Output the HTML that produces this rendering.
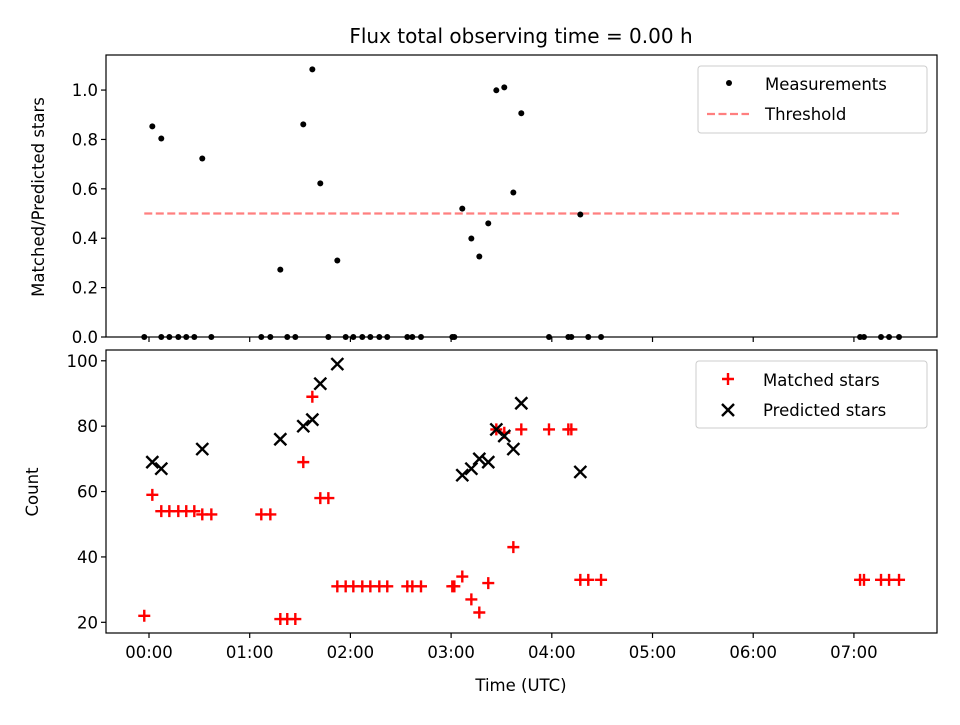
<!DOCTYPE html>
<html><head><meta charset="utf-8"><style>
body{margin:0;background:#fff;}
svg text{font-family:"DejaVu Sans","Liberation Sans",sans-serif;fill:#000;}
</style></head><body>
<svg id="chart" width="960" height="720" xmlns="http://www.w3.org/2000/svg"></svg>
<script>
const rTimes=[-0.047,0.122,0.202,0.291,0.370,0.450,0.619,1.115,1.205,1.373,1.453,1.781,1.953,2.029,2.118,2.198,2.287,2.366,2.565,2.615,2.701,3.012,3.032,3.972,4.164,4.194,4.362,4.489,7.061,7.100,7.269,7.349,7.448,
0.033,0.122,0.529,1.304,1.532,1.622,1.701,1.870,3.111,3.201,3.280,3.369,3.449,3.528,3.618,3.697,4.283];
const rValues=[0,0,0,0,0,0,0,0,0,0,0,0,0,0,0,0,0,0,0,0,0,0,0,0,0,0,0,0,0,0,0,0,0,
0.853,0.804,0.723,0.273,0.861,1.084,0.622,0.310,0.520,0.399,0.326,0.460,0.999,1.011,0.585,0.906,0.496];
const threshold=0.5;
const mTimes=[-0.047,0.033,0.122,0.202,0.291,0.370,0.450,0.529,0.619,1.115,1.205,1.304,1.373,1.453,1.532,1.622,1.701,1.781,1.870,1.953,2.029,2.118,2.198,2.287,2.366,2.565,2.615,2.701,3.012,3.032,3.111,3.201,3.280,3.369,3.449,3.528,3.618,3.697,3.972,4.164,4.194,4.283,4.362,4.489,7.061,7.100,7.269,7.349,7.448];
const mCounts=[22,59,54,54,54,54,54,53,53,53,53,21,21,21,69,89,58,58,31,31,31,31,31,31,31,31,31,31,31,31,34,27,23,32,79,78,43,79,79,79,79,33,33,33,33,33,33,33,33];
const pTimes=[0.033,0.122,0.529,1.304,1.532,1.622,1.701,1.870,3.111,3.201,3.280,3.369,3.449,3.528,3.618,3.697,4.283];
const pCounts=[69,67,73,76,80,82,93,99,65,67,70,69,79,77,73,87,66];
const xTicks=[0,1,2,3,4,5,6,7];
const xTickLabels=["00:00","01:00","02:00","03:00","04:00","05:00","06:00","07:00"];
const topYTicks=[0,0.2,0.4,0.6,0.8,1.0];
const botYTicks=[20,40,60,80,100];

const NS="http://www.w3.org/2000/svg";
const svg=document.getElementById('chart');
function el(tag,attrs,parent){const e=document.createElementNS(NS,tag);for(const k in attrs)e.setAttribute(k,attrs[k]);(parent||svg).appendChild(e);return e;}
const L=106,R=937,xMin=-0.427,xMax=7.825;
const X=h=>L+(h-xMin)/(xMax-xMin)*(R-L);
const T={top:55,bot:337,min:0,max:1.142};
const B={top:350,bot:633,min:16.73,max:103.3};
const YT=v=>T.bot-(v-T.min)/(T.max-T.min)*(T.bot-T.top);
const YB=v=>B.bot-(v-B.min)/(B.max-B.min)*(B.bot-B.top);
const FS=16.5;

let t=el('text',{x:521,y:43,'text-anchor':'middle','font-size':20});t.textContent='Flux total observing time = 0.00 h';


const gT=el('g',{});

let th=el('line',{x1:X(Math.min(...mTimes)),x2:X(Math.max(...mTimes)),y1:YT(threshold),y2:YT(threshold),stroke:'#ff7f7f','stroke-width':2.2,'stroke-dasharray':'8,3.5'},gT);

rTimes.forEach((h,i)=>{const c=el('circle',{cx:X(h),cy:YT(rValues[i]),r:3,fill:'#000'},gT);
});
el('rect',{x:L,y:T.top,width:R-L,height:T.bot-T.top,fill:'none',stroke:'#000','stroke-width':1.2},gT);
topYTicks.forEach(v=>{const y=YT(v);el('line',{x1:L-5,x2:L,y1:y,y2:y,stroke:'#000','stroke-width':1.2},gT);
const tx=el('text',{x:L-8,y:y+6,'text-anchor':'end','font-size':FS},gT);tx.textContent=v.toFixed(1);
});
xTicks.forEach(h=>{el('line',{x1:X(h),x2:X(h),y1:T.bot,y2:T.bot+5,stroke:'#000','stroke-width':1.2},gT);});
let yl=el('text',{x:0,y:0,transform:'translate(44,197) rotate(-90)','text-anchor':'middle','font-size':FS},gT);yl.textContent='Matched/Predicted stars';

const lg1=el('g',{});
el('rect',{x:698,y:66,width:229,height:67,rx:3,fill:'#fff',stroke:'#ccc','stroke-width':1},lg1);
el('circle',{cx:729,cy:83,r:3,fill:'#000'},lg1);
let l1=el('text',{x:765,y:90,'font-size':FS},lg1);l1.textContent='Measurements';
el('line',{x1:707,x2:749,y1:114,y2:114,stroke:'#ff7f7f','stroke-width':2.2,'stroke-dasharray':'8,3.5'},lg1);
let l2=el('text',{x:765,y:120,'font-size':FS},lg1);l2.textContent='Threshold';

const gB=el('g',{});
function plus(cx,cy,g){return el('path',{d:`M${cx-6},${cy}H${cx+6}M${cx},${cy-6}V${cy+6}`,stroke:'#f00','stroke-width':2.4},g);}
function cross(cx,cy,g){return el('path',{d:`M${cx-6},${cy-6}L${cx+6},${cy+6}M${cx-6},${cy+6}L${cx+6},${cy-6}`,stroke:'#000','stroke-width':2.4},g);}
mTimes.forEach((h,i)=>{const p=plus(X(h),YB(mCounts[i]),gB);
});
pTimes.forEach((h,i)=>{const p=cross(X(h),YB(pCounts[i]),gB);
});
el('rect',{x:L,y:B.top,width:R-L,height:B.bot-B.top,fill:'none',stroke:'#000','stroke-width':1.2},gB);
botYTicks.forEach(v=>{const y=YB(v);el('line',{x1:L-5,x2:L,y1:y,y2:y,stroke:'#000','stroke-width':1.2},gB);
const tx=el('text',{x:L-8,y:y+6,'text-anchor':'end','font-size':FS},gB);tx.textContent=v;
});
xTicks.forEach((h,i)=>{el('line',{x1:X(h),x2:X(h),y1:B.bot,y2:B.bot+5,stroke:'#000','stroke-width':1.2},gB);
const tx=el('text',{x:X(h),y:B.bot+25,'text-anchor':'middle','font-size':FS},gB);tx.textContent=xTickLabels[i];
});
let yl2=el('text',{x:0,y:0,transform:'translate(38,492) rotate(-90)','text-anchor':'middle','font-size':FS},gB);yl2.textContent='Count';

let xl=el('text',{x:521,y:691,'text-anchor':'middle','font-size':FS},gB);xl.textContent='Time (UTC)';

const lg2=el('g',{});
el('rect',{x:696,y:361,width:231,height:67,rx:3,fill:'#fff',stroke:'#ccc','stroke-width':1},lg2);
plus(728,379,lg2);
let l3=el('text',{x:763,y:386,'font-size':FS},lg2);l3.textContent='Matched stars';
cross(728,410,lg2);
let l4=el('text',{x:763,y:416,'font-size':FS},lg2);l4.textContent='Predicted stars';
</script>
</body></html>
